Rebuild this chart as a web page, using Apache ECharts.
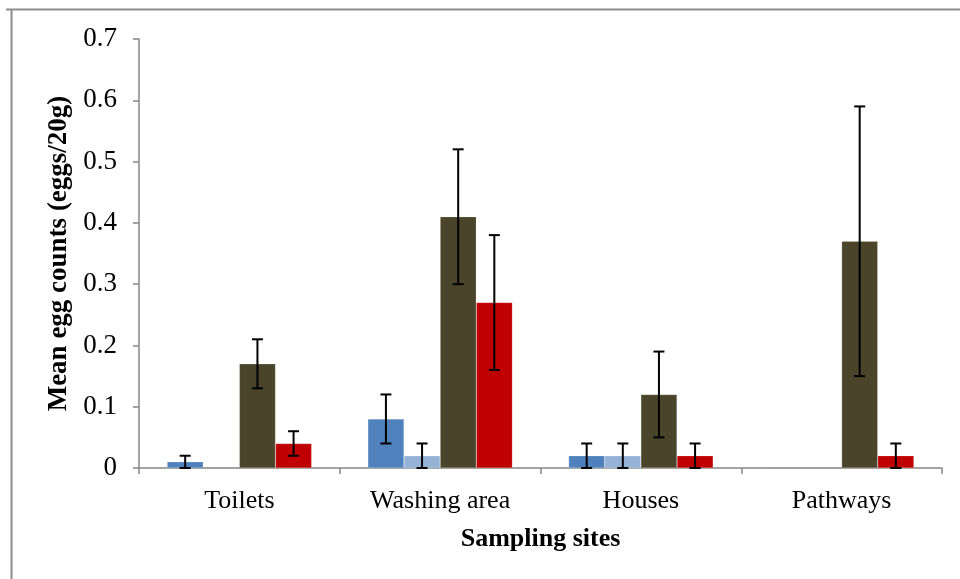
<!DOCTYPE html>
<html>
<head>
<meta charset="utf-8">
<script src="https://cdn.jsdelivr.net/npm/echarts@6/dist/echarts.min.js"></script>
<style>html,body{margin:0;padding:0;background:#fff;}#main{width:960px;height:579px;}</style>
</head>
<body>
<div id="main"></div>
<script>
var categories = ['Toilets', 'Washing area', 'Houses', 'Pathways'];
var seriesNames = ['Series A', 'Series B', 'Series C', 'Series D'];
var valuesA = [0.01, 0.08, 0.02, 0];
var valuesB = [0, 0.02, 0.02, 0];
var valuesC = [0.17, 0.41, 0.12, 0.37];
var valuesD = [0.04, 0.27, 0.02, 0.02];
var errA = [0.01, 0.04, 0.02, null];
var errB = [null, 0.02, 0.02, null];
var errC = [0.04, 0.11, 0.07, 0.22];
var errD = [0.02, 0.11, 0.02, 0.02];
var yTicks = [0, 0.1, 0.2, 0.3, 0.4, 0.5, 0.6, 0.7];

var colors = ['#4F81BD', '#95B3D7', '#4A452A', '#C00000'];
var allValues = [valuesA, valuesB, valuesC, valuesD];
var allErr = [errA, errB, errC, errD];
var FONT = '"Liberation Serif", "Times New Roman", serif';
var axisGray = '#868686';
var catGapRatio = 0.28;

var series = [];
allValues.forEach(function (vals, i) {
  series.push({
    name: seriesNames[i],
    type: 'bar',
    data: vals.map(function (v) {
      return v === 0
        ? { value: v, itemStyle: { borderColor: '#a0a0a0', borderWidth: 1.5 } }
        : v;
    }),
    barGap: '0%',
    barCategoryGap: (catGapRatio * 100) + '%',
    itemStyle: { color: colors[i], borderColor: 'rgba(255,255,255,0.35)', borderWidth: 0.5 },
    silent: true
  });
});
allErr.forEach(function (errs, i) {
  var data = [];
  errs.forEach(function (e, j) {
    if (e !== null) data.push([j, allValues[i][j] - e, allValues[i][j] + e]);
  });
  series.push({
    type: 'custom',
    silent: true,
    z: 10,
    data: data,
    encode: { x: 0, y: [1, 2] },
    renderItem: function (params, api) {
      var idx = api.value(0);
      var lo = api.coord([idx, api.value(1)]);
      var hi = api.coord([idx, api.value(2)]);
      var band = api.size([1, 0])[0];
      var bw = band * (1 - catGapRatio) / 4;
      var x = lo[0] + (i - 1.5) * bw;
      var cap = 5.5;
      var style = { stroke: '#000', lineWidth: 2 };
      return {
        type: 'group',
        children: [
          { type: 'line', shape: { x1: x, y1: lo[1], x2: x, y2: hi[1] }, style: style },
          { type: 'line', shape: { x1: x - cap, y1: lo[1], x2: x + cap, y2: lo[1] }, style: style },
          { type: 'line', shape: { x1: x - cap, y1: hi[1], x2: x + cap, y2: hi[1] }, style: style }
        ]
      };
    }
  });
});

var chart = echarts.init(document.getElementById('main'));
chart.setOption({
  animation: false,
  textStyle: { fontFamily: FONT },
  graphic: [
    { type: 'line', shape: { x1: 6, y1: 9.5, x2: 960, y2: 9.5 }, style: { stroke: '#8c8c8c', lineWidth: 2 } },
    { type: 'line', shape: { x1: 11.5, y1: 9, x2: 11.5, y2: 579 }, style: { stroke: '#8c8c8c', lineWidth: 2 } }
  ],
  grid: { left: 139, right: 18, top: 39, bottom: 111, containLabel: false },
  xAxis: {
    type: 'category',
    data: categories,
    name: 'Sampling sites',
    nameLocation: 'middle',
    nameGap: 58,
    nameTextStyle: { fontFamily: FONT, fontSize: 26, fontWeight: 'bold', color: '#000' },
    axisLine: { lineStyle: { color: axisGray, width: 1.5 } },
    axisTick: { show: true, length: 6, lineStyle: { color: axisGray, width: 1.5 } },
    axisLabel: { fontFamily: FONT, fontSize: 26, color: '#000', margin: 20 }
  },
  yAxis: {
    type: 'value',
    min: yTicks[0],
    max: yTicks[yTicks.length - 1],
    interval: 0.1,
    name: 'Mean egg counts (eggs/20g)',
    nameLocation: 'middle',
    nameRotate: 90,
    nameGap: 63,
    nameTextStyle: { fontFamily: FONT, fontSize: 27, fontWeight: 'bold', color: '#000' },
    axisLine: { show: true, lineStyle: { color: axisGray, width: 1.5 } },
    axisTick: { show: true, length: 6, lineStyle: { color: axisGray, width: 1.5 } },
    splitLine: { show: false },
    axisLabel: {
      fontFamily: FONT, fontSize: 27, color: '#000', margin: 22,
      formatter: function (v) { return v === 0 ? '0' : v.toFixed(1); }
    }
  },
  series: series
});
</script>
</body>
</html>
